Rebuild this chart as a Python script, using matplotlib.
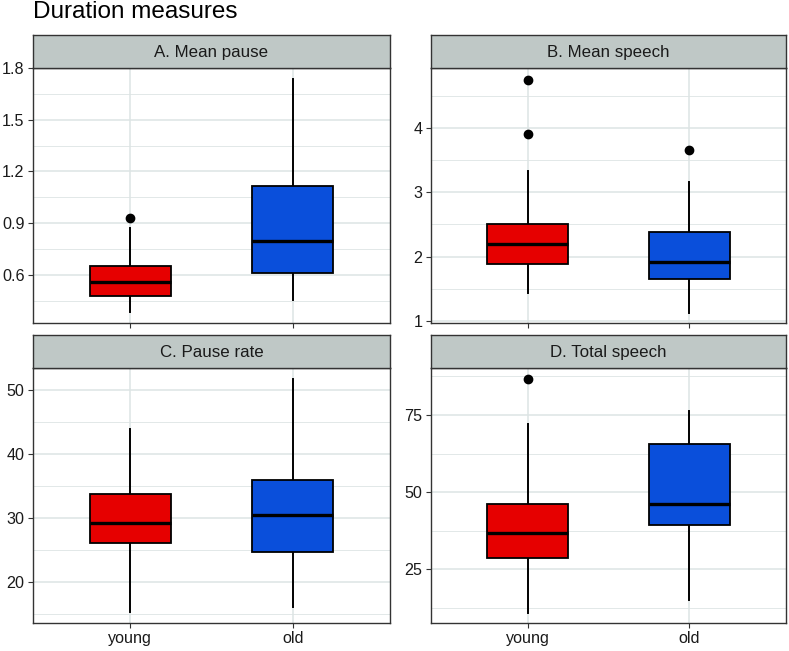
import matplotlib
matplotlib.use("Agg")
import matplotlib.pyplot as plt
from matplotlib.ticker import MultipleLocator

plt.rcParams['font.family'] = ['Liberation Sans', 'DejaVu Sans']

groups = ['young', 'old']
colors = ['#E60000', '#0A4FDB']

# per-panel: titles, box stats (low whisker, q1, median, q3, high whisker), outliers
titles = ['A. Mean pause', 'B. Mean speech', 'C. Pause rate', 'D. Total speech']

pause_young = [0.381, 0.474, 0.558, 0.652, 0.871]
pause_old = [0.451, 0.613, 0.794, 1.114, 1.737]
pause_out = [[0.929], []]

speech_young = [1.43, 1.89, 2.20, 2.51, 3.33]
speech_old = [1.13, 1.66, 1.92, 2.38, 3.16]
speech_out = [[4.75, 3.91], [3.65]]

rate_young = [15.3, 26.1, 29.2, 33.8, 43.9]
rate_old = [16.1, 24.7, 30.5, 36.0, 51.7]
rate_out = [[], []]

total_young = [11.0, 28.8, 36.9, 46.3, 72.0]
total_old = [15.2, 39.5, 46.3, 65.6, 76.3]
total_out = [[86.6], []]

panel_stats = [
    (pause_young, pause_old, pause_out),
    (speech_young, speech_old, speech_out),
    (rate_young, rate_old, rate_out),
    (total_young, total_old, total_out),
]
ylims = [(0.32, 1.80), (0.97, 4.93), (13.65, 53.4), (7.6, 90.2)]
major_steps = [0.3, 1, 10, 25]

W, H = 789, 651
fig = plt.figure(figsize=(W / 100, H / 100), dpi=100)

lefts = [33, 431, 33, 431]
widths = [357, 355, 357, 355]
tops = [68, 68, 368, 368]
panel_h = 255
strip_h = 33

grid_col = '#DDE4E4'
frame_col = '#333333'

for i in range(4):
    l, w, t = lefts[i], widths[i], tops[i]
    ax = fig.add_axes([l / W, (H - t - panel_h) / H, w / W, panel_h / H])
    sax = fig.add_axes([l / W, (H - t) / H, w / W, strip_h / H])
    sax.set_facecolor('#BFC8C6')
    sax.set_xticks([])
    sax.set_yticks([])
    for s in sax.spines.values():
        s.set_color(frame_col)
        s.set_linewidth(1.0)
    sax.text(0.5, 0.47, titles[i], ha='center', va='center', fontsize=12.2,
             color='#1a1a1a', transform=sax.transAxes)

    young, old, outs = panel_stats[i]
    stats = []
    for vals, fl, name in zip([young, old], outs, groups):
        stats.append(dict(whislo=vals[0], q1=vals[1], med=vals[2], q3=vals[3],
                          whishi=vals[4], fliers=fl, label=name))
    bp = ax.bxp(stats, positions=[1, 2], widths=0.5, patch_artist=True,
                showcaps=False,
                boxprops=dict(edgecolor='black', linewidth=1.3),
                medianprops=dict(color='black', linewidth=2.4),
                whiskerprops=dict(color='black', linewidth=1.4),
                flierprops=dict(marker='o', markerfacecolor='black',
                                markeredgecolor='black', markersize=6))
    for patch, c in zip(bp['boxes'], colors):
        patch.set_facecolor(c)
        patch.set_zorder(3)
    for a in bp['medians'] + bp['fliers']:
        a.set_zorder(4)
    for a in bp['whiskers']:
        a.set_zorder(2)

    ax.set_xlim(0.4, 2.6)
    ax.set_ylim(*ylims[i])
    ax.yaxis.set_major_locator(MultipleLocator(major_steps[i]))
    ax.yaxis.set_minor_locator(MultipleLocator(major_steps[i] / 2))
    if i == 0:
        ax.yaxis.set_major_formatter(plt.FuncFormatter(lambda v, p: f'{v:.1f}'))
    ax.set_axisbelow(True)
    ax.grid(True, which='major', color=grid_col, linewidth=1.1)
    ax.grid(True, which='minor', axis='y', color=grid_col, linewidth=0.6)
    ax.tick_params(which='minor', length=0)
    ax.tick_params(which='major', length=3.6, color=frame_col, width=0.8,
                   labelsize=11.6, labelcolor='#1a1a1a', pad=2.5)
    for s in ax.spines.values():
        s.set_color(frame_col)
        s.set_linewidth(1.0)
    if i < 2:
        ax.set_xticklabels([])
    else:
        ax.set_xticklabels(groups)

fig.text(33 / W, 1 - 18 / H, 'Duration measures', fontsize=17.5, ha='left',
         va='baseline', color='black')

fig.savefig('out.png', dpi=100)
